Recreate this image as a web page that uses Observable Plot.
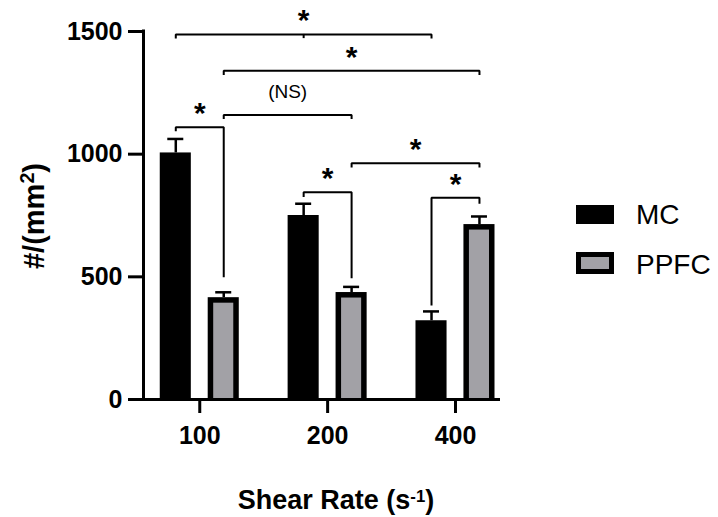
<!DOCTYPE html>
<html>
<head>
<meta charset="utf-8">
<script src="https://cdn.jsdelivr.net/npm/d3@7"></script>
<script src="https://cdn.jsdelivr.net/npm/@observablehq/plot@0.6"></script>
<style>
  html, body { margin: 0; padding: 0; background: #fff; }
  body { font-family: "Liberation Sans", Arial, sans-serif; color: #000; }
  #wrap { position: relative; width: 718px; height: 517px; overflow: hidden; }
  #wrap svg { display: block; }
  .ylabel { position: absolute; left: 34px; top: 216px; font-size: 29px; font-weight: bold; line-height: 1;
            white-space: nowrap; transform: translate(-50%, -50%) rotate(-90deg); }
  .ylabel sup { font-size: 0.68em; top: -0.5em; }
  .xlabel { position: absolute; left: 336px; top: 487px; font-size: 27px; font-weight: bold; line-height: 1;
            white-space: nowrap; transform: translateX(-50%); }
  sup { font-size: 0.62em; line-height: 0; position: relative; top: -0.42em; vertical-align: baseline; }
  .leg { position: absolute; left: 576px; font-size: 28px; line-height: 1; white-space: nowrap; }
  .sw { position: absolute; left: 0; width: 38px; box-sizing: border-box; }
  .leg .t { position: absolute; left: 60px; top: 0; }
</style>
</head>
<body>
<div id="wrap"></div>
<script>
// ---- data ----
const categories = ["100", "200", "400"];
const seriesNames = ["MC", "PPFC"];
const mcMeans = [1005, 750, 321];
const mcErrors = [57, 48, 38];
const ppfcMeans = [415, 436, 713];
const ppfcErrors = [22, 23, 33];
const yTicks = [0, 500, 1000, 1500];
const yDomain = [0, 1500];

// significance comparisons (endpoints as [category, series])
const compFrom  = [["100","MC"], ["100","PPFC"], ["100","PPFC"], ["100","MC"], ["200","PPFC"], ["200","MC"], ["400","MC"]];
const compTo    = [["400","MC"], ["400","PPFC"], ["200","PPFC"], ["100","PPFC"], ["400","PPFC"], ["200","PPFC"], ["400","PPFC"]];
const compMid   = [["200","MC"], null, null, null, null, null, null];
const compLevel = [1488, 1340, 1160, 1110, 963, 845, 822];
const compEndFrom = [1471, 1323, 1143, 1093, 946, 825, 383];
const compEndTo   = [1471, 1323, 1143, 498, 946, 494, 798];
const compLabels  = ["*", "*", "(NS)", "*", "*", "*", "*"];

// ---- layout helpers ----
const gray = "#a2a1a6";
const xDomain = [-0.44, 2.352];
const offset = 0.1875;   // bar center offset from group center (x units)
const half = 0.1215;     // half bar width (x units)
const capHalf = 0.0626;  // half error-cap width (x units)
const pos = (cat, s) => categories.indexOf(cat) + (s === "MC" ? -offset : offset);

const bars = categories.flatMap((c, i) => [
  {cat: c, series: "MC", value: mcMeans[i], err: mcErrors[i]},
  {cat: c, series: "PPFC", value: ppfcMeans[i], err: ppfcErrors[i]}
]).map(d => ({...d, x: pos(d.cat, d.series)}));

const comps = compLabels.map((label, i) => ({
  id: i, label,
  xa: pos(...compFrom[i]), xb: pos(...compTo[i]),
  mid: compMid[i] ? pos(...compMid[i]) : null,
  level: compLevel[i], ea: compEndFrom[i], eb: compEndTo[i]
}));
const bracketPts = comps.flatMap(c => [
  {id: c.id, x: c.xa, y: c.ea}, {id: c.id, x: c.xa, y: c.level},
  {id: c.id, x: c.xb, y: c.level}, {id: c.id, x: c.xb, y: c.eb}
]);
const midTicks = comps.filter(c => c.mid != null);

const chart = Plot.plot({
  width: 718,
  height: 517,
  marginLeft: 143,
  marginRight: 218,
  marginTop: 31,
  marginBottom: 118,
  style: {fontFamily: "Liberation Sans, Arial, sans-serif", fontWeight: "bold", color: "#000", background: "#fff", overflow: "visible"},
  x: {type: "linear", domain: xDomain},
  y: {domain: yDomain},
  marks: [
    // bars
    Plot.rectY(bars, {x1: d => d.x - half, x2: d => d.x + half, y1: 0, y2: "value", fill: "#000"}),
    Plot.rectY(bars.filter(d => d.series === "PPFC"), {x1: d => d.x - half, x2: d => d.x + half, y1: 0, y2: "value",
      fill: gray, insetLeft: 5.5, insetRight: 5.5, insetTop: 5.5, insetBottom: 1}),
    // error bars
    Plot.ruleX(bars, {x: "x", y1: "value", y2: d => d.value + d.err, stroke: "#000", strokeWidth: 2.5}),
    Plot.ruleY(bars, {y: d => d.value + d.err, x1: d => d.x - capHalf, x2: d => d.x + capHalf, stroke: "#000", strokeWidth: 2.5}),
    // significance brackets
    Plot.line(bracketPts, {x: "x", y: "y", z: "id", stroke: "#000", strokeWidth: 2, strokeLinejoin: "miter", strokeLinecap: "butt"}),
    Plot.ruleX(midTicks, {x: "mid", y1: d => d.ea, y2: "level", stroke: "#000", strokeWidth: 2}),
    Plot.text(comps.filter(c => c.label === "*"), {x: d => (d.xa + d.xb) / 2, y: "level", text: "label",
      fontSize: 30, fontWeight: "bold", lineAnchor: "bottom", dy: -4}),
    Plot.text(comps.filter(c => c.label !== "*"), {x: d => (d.xa + d.xb) / 2, y: "level", text: "label",
      fontSize: 19, fontWeight: "normal", lineAnchor: "bottom", dy: -17}),
    // axes
    Plot.ruleY([0], {stroke: "#000", strokeWidth: 3}),
    Plot.ruleX([xDomain[0]], {y1: yDomain[0], y2: yDomain[1], stroke: "#000", strokeWidth: 3, strokeLinecap: "square"}),
    Plot.axisY({ticks: yTicks, tickFormat: d => String(d), tickSize: 15, tickPadding: 6, fontSize: 25, fontWeight: "bold", strokeWidth: 3, label: null}),
    Plot.axisX({ticks: [0, 1, 2], tickFormat: i => categories[i], tickSize: 14, tickPadding: 13, fontSize: 25, fontWeight: "bold", strokeWidth: 3, label: null})
  ]
});

const wrap = document.getElementById("wrap");
wrap.appendChild(chart);

// axis titles (with superscripts) and legend
const yl = document.createElement("div");
yl.className = "ylabel";
yl.innerHTML = "#/(mm<sup>2</sup>)";
wrap.appendChild(yl);

const xl = document.createElement("div");
xl.className = "xlabel";
xl.innerHTML = "Shear Rate (s<sup>-1</sup>)";
wrap.appendChild(xl);

const legendTops = [201, 251];
seriesNames.forEach((name, i) => {
  const item = document.createElement("div");
  item.className = "leg";
  item.style.top = legendTops[i] + "px";
  const sw = document.createElement("span");
  sw.className = "sw";
  if (name === "MC") {
    sw.style.top = "4px"; sw.style.height = "19px"; sw.style.background = "#000";
  } else {
    sw.style.top = "1px"; sw.style.height = "22px"; sw.style.background = gray; sw.style.border = "5.5px solid #000";
  }
  const t = document.createElement("span");
  t.className = "t";
  t.textContent = name;
  item.appendChild(sw);
  item.appendChild(t);
  wrap.appendChild(item);
});
</script>
</body>
</html>
